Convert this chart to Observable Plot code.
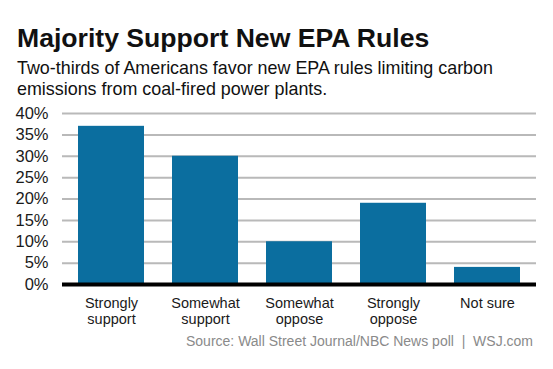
<!DOCTYPE html>
<html>
<head>
<meta charset="utf-8">
<script src="https://cdn.jsdelivr.net/npm/d3@7"></script>
<script src="https://cdn.jsdelivr.net/npm/@observablehq/plot@0.6"></script>
<style>
  body { margin: 0; background: #fff; font-family: "Liberation Sans", Arial, sans-serif; }
  #wrap { position: relative; width: 553px; height: 369px; overflow: hidden; }
  #title { position: absolute; left: 17px; top: 24.5px; font-size: 26.6px; line-height: 1; font-weight: bold; color: #111; white-space: nowrap; }
  #subtitle { position: absolute; left: 17px; top: 58px; font-size: 17.9px; line-height: 21px; color: #111; width: 530px; }
  #chart { position: absolute; left: 0; top: 100px; }
  #source { position: absolute; right: 20px; top: 334px; font-size: 14px; line-height: 1; color: #8a8a8a; white-space: nowrap; }
</style>
</head>
<body>
<div id="wrap">
  <div id="title">Majority Support New EPA Rules</div>
  <div id="subtitle">Two-thirds of Americans favor new EPA rules limiting carbon emissions from coal-fired power plants.</div>
  <div id="chart"></div>
  <div id="source">Source: Wall Street Journal/NBC News poll&nbsp;&nbsp;|&nbsp;&nbsp;WSJ.com</div>
</div>
<script>
const categories = ["Strongly\nsupport", "Somewhat\nsupport", "Somewhat\noppose", "Strongly\noppose", "Not sure"];
const values = [37, 30, 10, 19, 4];
const yTicks = [0, 5, 10, 15, 20, 25, 30, 35, 40];

const data = categories.map((c, i) => ({category: c, value: values[i]}));

const plot = Plot.plot({
  width: 553,
  height: 230,
  marginTop: 13,
  marginBottom: 46,
  marginLeft: 62,
  marginRight: 17,
  style: { fontFamily: "'Liberation Sans', Arial, sans-serif", background: "transparent" },
  x: { domain: categories, paddingInner: 0.3, paddingOuter: 0.15, label: null },
  y: { domain: [0, 40], ticks: yTicks, label: null },
  marks: [
    Plot.gridY(yTicks.slice(1), { stroke: "#b9b9b9", strokeWidth: 2, strokeOpacity: 1 }),
    Plot.barY(data, { x: "category", y: "value", fill: "#0b6e9f" }),
    Plot.ruleY([0], { stroke: "#000", strokeWidth: 4 }),
    Plot.axisY(yTicks, { tickSize: 0, tickPadding: 14, tickFormat: d => d + "%", fontSize: 16.5, fill: "#1a1a1a" }),
    Plot.axisX({ tickSize: 0, tickPadding: 12, fontSize: 14.5, lineHeight: 1.1, fill: "#1a1a1a" })
  ]
});
document.getElementById("chart").appendChild(plot);
</script>
</body>
</html>
